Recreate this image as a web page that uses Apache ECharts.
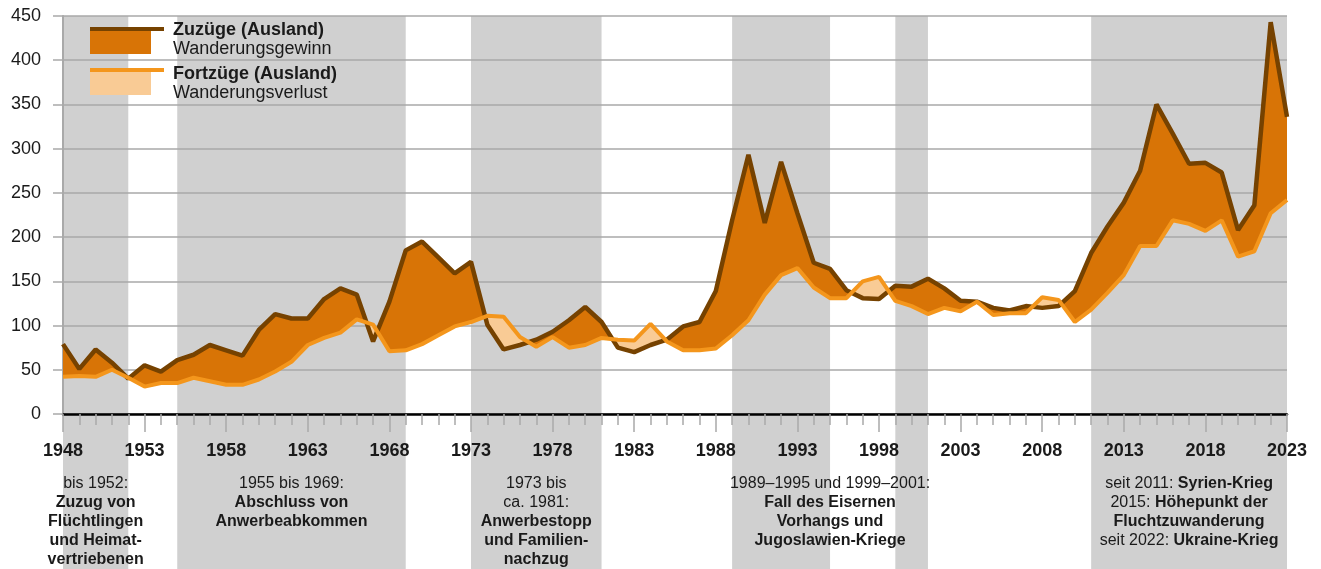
<!DOCTYPE html>
<html>
<head>
<meta charset="utf-8">
<script src="https://cdn.jsdelivr.net/npm/echarts@6/dist/echarts.min.js"></script>
<style>
    html, body { margin: 0; padding: 0; background: #fff; }
    #main { width: 1321px; height: 569px; }
</style>
</head>
<body>
<div id="main"></div>
<script type="text/javascript">
    // Jahre 1948 bis 2023, Werte in Tausend
    var startYear = 1948;
    var zuzuege = [79, 51, 73, 58, 40, 55, 48, 61, 67, 78,
        72, 66, 95, 113, 108, 108, 130, 142, 135, 82,
        127, 185, 195, 177, 159, 172, 101, 73, 78, 84,
        93, 106, 121, 104, 75, 70, 78, 84, 99, 104,
        139, 219, 293, 216, 285, 227, 171, 164, 140, 131,
        130, 145, 144, 153, 142, 128, 127, 120, 117, 122,
        120, 122, 139, 182, 212, 239, 275, 350, 317, 283,
        284, 273, 208, 236, 443, 336];
    var fortzuege = [42, 43, 42, 50, 41, 31, 35, 35, 41, 37,
        33, 33, 39, 48, 59, 78, 86, 92, 107, 101,
        71, 72, 79, 89, 99, 104, 111, 110, 87, 76,
        87, 75, 78, 86, 84, 83, 102, 82, 72, 72,
        74, 89, 106, 135, 157, 165, 143, 131, 131, 150,
        155, 128, 122, 113, 120, 116, 127, 112, 114, 114,
        132, 129, 104, 118, 137, 157, 190, 190, 219, 215,
        207, 219, 178, 184, 227, 242];

    // Zeiträume (graue Hinterlegung)
    var bands = [[1948, 1952], [1955, 1969], [1973, 1981], [1989, 1995], [1999, 2001], [2011, 2023]];
    // Erläuterungen unter der Achse
    var notes = [
        {from: 1948, to: 1952, text: '{r|bis 1952:}\n{b|Zuzug von}\n{b|Flüchtlingen}\n{b|und Heimat-}\n{b|vertriebenen}'},
        {from: 1955, to: 1969, text: '{r|1955 bis 1969:}\n{b|Abschluss von}\n{b|Anwerbeabkommen}'},
        {from: 1973, to: 1981, text: '{r|1973 bis}\n{r|ca. 1981:}\n{b|Anwerbestopp}\n{b|und Familien-}\n{b|nachzug}'},
        {from: 1989, to: 2001, text: '{r|1989–1995 und 1999–2001:}\n{b|Fall des Eisernen}\n{b|Vorhangs und}\n{b|Jugoslawien-Kriege}'},
        {from: 2011, to: 2023, text: '{r|seit 2011: }{b|Syrien-Krieg}\n{r|2015: }{b|Höhepunkt der}\n{b|Fluchtzuwanderung}\n{r|seit 2022: }{b|Ukraine-Krieg}'}
    ];

    var colZu = '#764200', colFort = '#f4961c', colGewinn = '#d87406', colVerlust = '#f9cb95';
    var colGrid = '#a9a9a9', colBand = '#d0d0d0', colText = '#1a1a1a';
    var font = 'Liberation Sans, Arial, sans-serif';

    // Punkte beider Linien, Schnittpunkte eingefuegt
    var px = [], pz = [], pf = [];
    for (var i = 0; i < zuzuege.length; i++) {
        px.push(i); pz.push(zuzuege[i]); pf.push(fortzuege[i]);
        if (i < zuzuege.length - 1) {
            var d0 = zuzuege[i] - fortzuege[i], d1 = zuzuege[i + 1] - fortzuege[i + 1];
            if (d0 * d1 < 0) {
                var t = d0 / (d0 - d1);
                var v = zuzuege[i] + t * (zuzuege[i + 1] - zuzuege[i]);
                px.push(i + t); pz.push(v); pf.push(v);
            }
        }
    }
    // zusammenhaengende Abschnitte mit Gewinn bzw. Verlust: [von, bis, gewinn?]
    var runs = [];
    for (var k = 0; k < px.length - 1; k++) {
        var g = (pz[k] + pz[k + 1]) >= (pf[k] + pf[k + 1]) ? 1 : 0;
        var last = runs[runs.length - 1];
        if (last && last[2] === g) last[1] = k + 1;
        else runs.push([k, k + 1, g]);
    }

    var bandAreas = bands.map(function (b) {
        return [{xAxis: b[0] - startYear}, {xAxis: b[1] - startYear}];
    });
    notes.forEach(function (n) {
        bandAreas.push([{
            xAxis: n.from - startYear,
            itemStyle: {color: 'rgba(0,0,0,0)'},
            label: {show: true, formatter: n.text}
        }, {xAxis: n.to - startYear}]);
    });

    function renderRun(params, api) {
        var a = api.value(0), b = api.value(1), gewinn = api.value(2) === 1;
        var pts = [], j;
        for (j = a; j <= b; j++) pts.push(api.coord([px[j], pz[j]]));
        for (j = b; j >= a; j--) pts.push(api.coord([px[j], pf[j]]));
        return {
            type: 'polygon',
            shape: {points: pts},
            style: {fill: gewinn ? colGewinn : colVerlust}
        };
    }

    var myChart = echarts.init(document.getElementById('main'));
    var option = {
        animation: false,
        grid: [
            {left: 63, right: 34, top: 16, bottom: 155, outerBoundsMode: 'none'},
            {left: 63, right: 34, top: 16, bottom: 0, outerBoundsMode: 'none'}
        ],
        xAxis: [{
            gridIndex: 0, type: 'value', min: 0, max: 75, interval: 5,
            axisLine: {onZero: false, lineStyle: {color: '#000', width: 2.5}},
            axisTick: {length: 18, lineStyle: {color: colGrid, width: 1.5}},
            minorTick: {show: true, splitNumber: 5, length: 11, lineStyle: {color: colGrid, width: 1.5}},
            axisLabel: {
                margin: 28, fontSize: 18, fontWeight: 'bold', color: colText, fontFamily: font,
                formatter: function (v) { return String(startYear + v); }
            },
            splitLine: {show: false}
        }, {
            gridIndex: 1, type: 'value', min: 0, max: 75, show: false
        }],
        yAxis: [{
            gridIndex: 0, type: 'value', min: 0, max: 450, interval: 50,
            axisLine: {show: true, lineStyle: {color: colGrid, width: 2}},
            axisTick: {show: true, length: 10, lineStyle: {color: colGrid, width: 1.5}},
            axisLabel: {margin: 22, fontSize: 18, color: colText, fontFamily: font},
            splitLine: {lineStyle: {color: colGrid, width: 1.5}}
        }, {
            gridIndex: 1, type: 'value', min: 0, max: 1, show: false
        }],
        graphic: [
            {type: 'rect', shape: {x: 90, y: 27, width: 74, height: 4}, style: {fill: colZu}},
            {type: 'rect', shape: {x: 90, y: 31, width: 61, height: 23}, style: {fill: colGewinn}},
            {type: 'text', x: 173, y: 30, style: {text: 'Zuzüge (Ausland)', font: 'bold 18px ' + font, fill: colText, verticalAlign: 'middle'}},
            {type: 'text', x: 173, y: 49, style: {text: 'Wanderungsgewinn', font: '18px ' + font, fill: colText, verticalAlign: 'middle'}},
            {type: 'rect', shape: {x: 90, y: 68, width: 74, height: 4}, style: {fill: colFort}},
            {type: 'rect', shape: {x: 90, y: 72, width: 61, height: 23}, style: {fill: colVerlust}},
            {type: 'text', x: 173, y: 74, style: {text: 'Fortzüge (Ausland)', font: 'bold 18px ' + font, fill: colText, verticalAlign: 'middle'}},
            {type: 'text', x: 173, y: 93, style: {text: 'Wanderungsverlust', font: '18px ' + font, fill: colText, verticalAlign: 'middle'}}
        ],
        series: [{
            name: 'Zeitraeume', type: 'line', xAxisIndex: 1, yAxisIndex: 1, data: [], z: -1, silent: true,
            markArea: {
                silent: true, z: -1,
                itemStyle: {color: colBand},
                label: {
                    show: false, position: 'insideTop', distance: 458.5, color: colText,
                    rich: {
                        r: {fontSize: 16, lineHeight: 19, fontFamily: font, color: colText},
                        b: {fontSize: 16, lineHeight: 19, fontFamily: font, fontWeight: 'bold', color: colText}
                    }
                },
                data: bandAreas
            }
        }, {
            name: 'Wanderungssaldo', type: 'custom', silent: true, z: 2,
            renderItem: renderRun,
            encode: {},
            data: runs
        }, {
            name: 'Zuzüge (Ausland)', type: 'line', symbol: 'none', silent: true, z: 3,
            data: zuzuege.map(function (v, i) { return [i, v]; }),
            lineStyle: {color: colZu, width: 4.5}
        }, {
            name: 'Fortzüge (Ausland)', type: 'line', symbol: 'none', silent: true, z: 4,
            data: fortzuege.map(function (v, i) { return [i, v]; }),
            lineStyle: {color: colFort, width: 4}
        }]
    };
    myChart.setOption(option);
</script>
</body>
</html>
